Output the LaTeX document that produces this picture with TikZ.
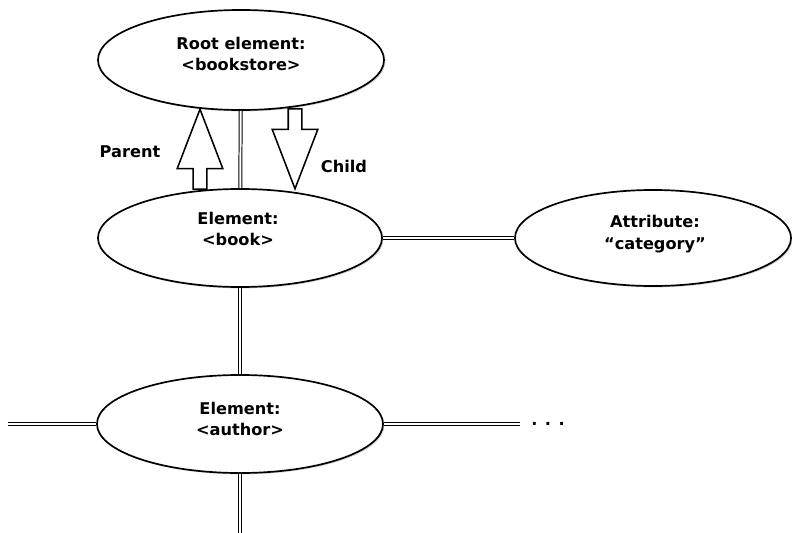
\documentclass[tikz,border=0pt]{standalone}
\usepackage{fontspec}
\setmainfont{DejaVu Sans}
\usepackage{tikz}
\usetikzlibrary{shapes.geometric,shapes.arrows,shadows}

\begin{document}
\begin{tikzpicture}[x=0.025cm,y=-0.025cm,
	every node/.style={font=\bfseries\fontsize{11.5}{15.5}\selectfont},
	elem/.style={shape=ellipse,draw=black,line width=1.2pt,fill=white,inner sep=0pt,
		drop shadow={shadow xshift=1pt,shadow yshift=-1pt,opacity=0.35}},
	elemtext/.style={align=center,inner sep=0pt},
	dline/.style={draw=black,line width=0.7pt,double=white,double distance=1.4pt},
	blockarrow/.style={single arrow,draw=black,line width=1.1pt,fill=white,inner xsep=0pt,inner ysep=0.15cm,
		minimum height=2cm,single arrow head extend=0.4cm,single arrow tip angle=42,anchor=tail}]
	\useasboundingbox (0,0) rectangle (792,533);

	\node[elem,minimum width=7.15cm,minimum height=2.5cm] (root) at (241,60) {};
	\node[elem,minimum width=7.1cm,minimum height=2.45cm] (book) at (240,238) {};
	\node[elem,minimum width=6.9cm,minimum height=2.4cm] (attr) at (653,238) {};
	\node[elem,minimum width=7.15cm,minimum height=2.45cm] (author) at (240,424) {};

	\node[elemtext] (roottext) at (241,54) {Root element:\\<bookstore>};
	\node[elemtext] (booktext) at (238,229) {Element:\\<book>};
	\node[elemtext] (attrtext) at (655,234) {Attribute:\\“category”};
	\node[elemtext] (authortext) at (240,419) {Element:\\<author>};

	\node[blockarrow,rotate=90] (parentarrow) at (200,190) {};
	\node[blockarrow,rotate=-90] (childarrow) at (295,108) {};
	\node (parent) at (130,152) {Parent};
	\node (child) at (344,166) {Child};
	\node (dots) at (548,424) {. . .};

	\coordinate (leftend) at (8,424);
	\coordinate (rightend) at (520,424);
	\coordinate (downend) at (240,533);

	\draw[dline] (root) -- (book);
	\draw[dline] (book) -- (attr);
	\draw[dline] (book) -- (author);
	\draw[dline] (author) -- (leftend);
	\draw[dline] (author) -- (rightend);
	\draw[dline] (author) -- (downend);
\end{tikzpicture}
\end{document}
